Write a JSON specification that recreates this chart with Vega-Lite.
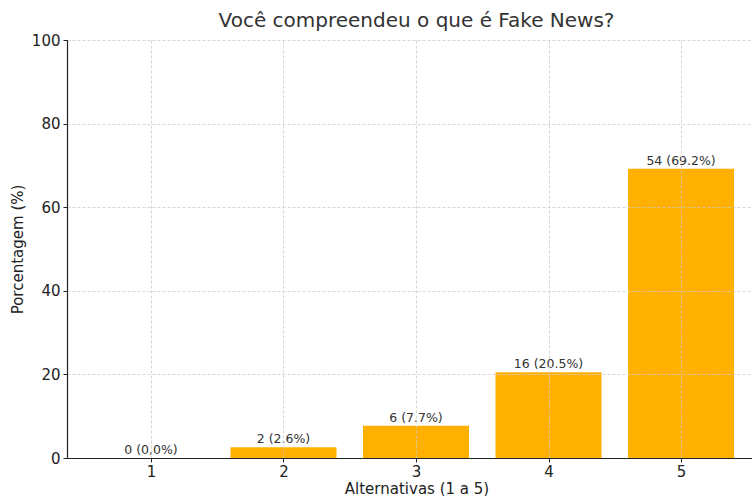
{
  "$schema": "https://vega.github.io/schema/vega-lite/v6.json",
  "autosize": {"type": "none"},
  "padding": {"left": 67, "top": 40, "right": 0, "bottom": 38},
  "width": 699,
  "height": 418,
  "background": "white",
  "title": {
    "text": "Você compreendeu o que é Fake News?",
    "font": "DejaVu Sans",
    "fontSize": 20,
    "fontWeight": "normal",
    "color": "#333333",
    "anchor": "middle",
    "offset": 2
  },
  "config": {
    "view": {"stroke": null},
    "font": "DejaVu Sans"
  },
  "data": {
    "values": [
      {"alt": 1, "pct": 0.0, "label": "0 (0,0%)"},
      {"alt": 2, "pct": 2.6, "label": "2 (2.6%)"},
      {"alt": 3, "pct": 7.7, "label": "6 (7.7%)"},
      {"alt": 4, "pct": 20.5, "label": "16 (20.5%)"},
      {"alt": 5, "pct": 69.2, "label": "54 (69.2%)"}
    ]
  },
  "encoding": {
    "x": {
      "field": "alt",
      "type": "quantitative",
      "scale": {"domain": [0.3665, 5.641], "nice": false, "zero": false, "padding": 0},
      "axis": {
        "values": [1, 2, 3, 4, 5],
        "title": "Alternativas (1 a 5)",
        "titleFont": "DejaVu Sans",
        "titleFontSize": 15,
        "titleFontWeight": "normal",
        "titleColor": "#222222",
        "titlePadding": 2,
        "labelFont": "DejaVu Sans",
        "labelFontSize": 15,
        "labelColor": "#222222",
        "labelPadding": 2,
        "tickSize": 4,
        "tickColor": "#222222",
        "domainColor": "#222222",
        "domainWidth": 1.2,
        "grid": true,
        "gridColor": "#cccccc",
        "gridDash": [3, 2],
        "gridWidth": 0.8,
        "zindex": 1
      }
    }
  },
  "layer": [
    {
      "mark": {"type": "bar", "color": "#FFB000", "size": 106},
      "encoding": {
        "y": {
          "field": "pct",
          "type": "quantitative",
          "scale": {"domain": [0, 100], "nice": false},
          "axis": {
            "values": [0, 20, 40, 60, 80, 100],
            "title": "Porcentagem (%)",
            "titleFont": "DejaVu Sans",
            "titleFontSize": 15,
            "titleFontWeight": "normal",
            "titleColor": "#222222",
            "titlePadding": 6,
            "labelFont": "DejaVu Sans",
            "labelFontSize": 15,
            "labelColor": "#222222",
            "labelPadding": 3,
            "tickSize": 4,
            "tickColor": "#222222",
            "domainColor": "#222222",
            "domainWidth": 1.2,
            "grid": true,
            "gridColor": "#cccccc",
            "gridDash": [3, 2],
            "gridWidth": 0.8,
            "zindex": 1
          }
        }
      }
    },
    {
      "mark": {
        "type": "text",
        "baseline": "bottom",
        "dy": -1,
        "font": "DejaVu Sans",
        "fontSize": 12.5,
        "color": "#333333"
      },
      "encoding": {
        "y": {"field": "pct", "type": "quantitative"},
        "text": {"field": "label", "type": "nominal"}
      }
    }
  ]
}
